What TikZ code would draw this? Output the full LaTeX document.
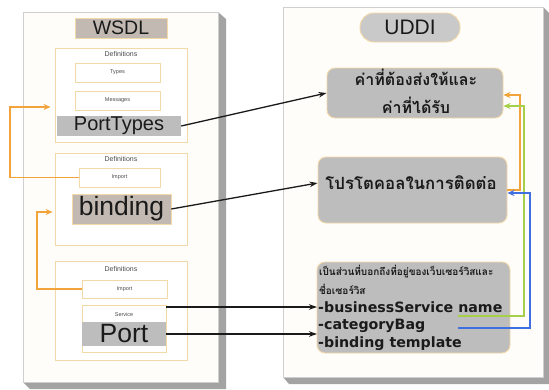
\documentclass[tikz,border=0pt]{standalone}
\usepackage{fontspec}
\setmainfont{Liberation Sans}
\newfontfamily\thaifont[Script=Thai]{Loma}
\newfontfamily\listfont{DejaVu Sans}
\usetikzlibrary{arrows.meta,fit,calc}

\definecolor{panelfill}{HTML}{FEFDF9}
\definecolor{panelline}{HTML}{CFCFCF}
\definecolor{panelshade}{HTML}{A3A3A3}
\definecolor{peach}{HTML}{F3D9A8}
\definecolor{bargrey}{HTML}{BDBDBD}
\definecolor{bartan}{HTML}{C2BAB2}
\definecolor{pillgrey}{HTML}{C9C9C9}
\definecolor{linkorange}{HTML}{F2A33A}
\definecolor{linkgreen}{HTML}{A6D04A}
\definecolor{linkblue}{HTML}{3F6FE0}
\definecolor{ink}{HTML}{1A1A1A}

\tikzset{
  panel/.style={draw=panelline, fill=panelfill, line width=0.6pt, inner sep=0pt},
  defbox/.style={draw=peach, fill=white, line width=0.9pt, inner sep=0pt},
  itembox/.style={draw=peach, fill=white, line width=0.9pt, inner sep=0pt},
  greybar/.style={fill=bargrey, draw=none, inner sep=0pt},
  tanbar/.style={fill=bartan, draw=peach, line width=0.6pt, inner sep=0pt},
  uddibox/.style={draw=peach, fill=bargrey, line width=0.9pt, rounded corners=8pt, inner sep=0pt},
  tinytext/.style={font=\fontsize{5.5}{6.5}\selectfont, text=black!70, inner sep=0pt},
  smalltext/.style={font=\fontsize{7}{8}\selectfont, text=black!70, inner sep=0pt},
  titletext/.style={font=\fontsize{19.5}{22}\selectfont, text=ink, inner sep=0pt},
  bigtext/.style={font=\fontsize{20}{22}\selectfont, text=ink, inner sep=0pt},
  hugetext/.style={font=\fontsize{26.5}{28}\selectfont, text=ink, inner sep=0pt},
  thaibig/.style={font=\thaifont\bfseries\fontsize{16}{28}\selectfont, text=ink, align=center, inner sep=0pt},
  thaismall/.style={font=\thaifont\bfseries\fontsize{10}{11}\selectfont, text=ink, inner sep=0pt},
  listtext/.style={font=\listfont\bfseries\fontsize{14.2}{16}\selectfont, text=ink, inner sep=1pt},
  link/.style={-{Stealth[length=8pt,width=5.5pt]}, line width=1.3pt, draw=ink},
  olink/.style={draw=linkorange, line width=1.4pt, -{Stealth[length=7pt,width=6pt]}},
  glink/.style={draw=linkgreen, line width=1.4pt, -{Stealth[length=7pt,width=6pt]}},
  blink/.style={draw=linkblue, line width=1.4pt, -{Stealth[length=7pt,width=6pt]}},
}

\begin{document}
\begin{tikzpicture}[x=1pt, y=-1pt]
\useasboundingbox (0,0) rectangle (549,389);
\fill[white] (0,0) rectangle (549,389);

% ---------------- WSDL panel ----------------
\fill[panelshade] (23,382) -- (30,389) -- (226,389) -- (226,19) -- (218,12) -- cycle;
\node[panel, fit={(23,12) (218,382)}] (wsdl) {};
\node[tanbar, fit={(75,18) (167,38)}] (wsdltag) {};
\node[titletext] (wsdltitle) at (wsdltag) {WSDL};

% first definitions block
\node[defbox, fit={(55,48) (187,142)}] (defs1) {};
\node[smalltext] (defs1t) at (121,53.5) {Definitions};
\node[itembox, fit={(75,63) (160,82)}, label={[tinytext]center:Types}] (types) {};
\node[itembox, fit={(75,91) (160,110)}, label={[tinytext]center:Messages}] (messages) {};
\node[greybar, fit={(57,116) (181,136)}] (porttypes) {};
\node[bigtext] (porttypest) at (porttypes) {PortTypes};

% second definitions block
\node[defbox, fit={(55,153) (187,245)}] (defs2) {};
\node[smalltext] (defs2t) at (121,158.5) {Definitions};
\node[itembox, fit={(79,168) (160,187)}, label={[tinytext]center:Import}] (import1) {};
\node[tanbar, fit={(72,194) (171,224)}] (binding) {};
\node[hugetext] (bindingt) at (binding) {binding};

% third definitions block
\node[defbox, fit={(55,261) (187,360)}] (defs3) {};
\node[smalltext] (defs3t) at (121,269) {Definitions};
\node[itembox, fit={(82,280) (167,298)}, label={[tinytext]center:Import}] (import2) {};
\node[itembox, fit={(82,305) (166,352)}] (service) {};
\node[tinytext] (servicet) at (124,314.5) {Service};
\node[greybar, fit={(82,322) (166,346)}] (port) {};
\node[hugetext] (portt) at (port) {Port};

% import links inside WSDL
\coordinate (iturn1) at (10,107);
\coordinate (iturn2) at (37,212);
\draw[olink, shorten >=4pt] (import1.west) -| (iturn1) -- (defs1.west |- iturn1);
\draw[olink, shorten >=2pt] (import2.west) -| (iturn2) -- (defs2.west |- iturn2);

% ---------------- UDDI panel ----------------
\fill[panelshade] (283,377) -- (289,384) -- (549,384) -- (549,13) -- (543,7) -- cycle;
\node[panel, fit={(283,7) (543,377)}] (uddi) {};
\node[draw=peach, fill=pillgrey, line width=0.9pt, rounded corners=14pt, inner sep=0pt,
      fit={(360,13) (460,42)}] (uddipill) {};
\node[titletext, font=\fontsize{21}{22}\selectfont] (uddititle) at (uddipill) {UDDI};

\node[uddibox, fit={(327,68) (503,118)}] (topbox) {};
\node[thaibig] (topboxt) at (416,91) {ค่าที่ต้องส่งให้และ\\ค่าที่ได้รับ};

\node[uddibox, fit={(318,157) (507,223)}] (midbox) {};
\node[thaibig, font=\thaifont\bfseries\fontsize{16.8}{20}\selectfont] (midboxt) at (411,183) {โปรโตคอลในการติดต่อ};

\node[uddibox, fit={(317,262) (510,353)}] (botbox) {};
\node[thaismall, anchor=west] (loc1) at (319,272) {เป็นส่วนที่บอกถึงที่อยู่ของเว็บเซอร์วิสและ};
\node[thaismall, anchor=west] (loc2) at (319,289) {ชื่อเซอร์วิส};
\node[listtext, anchor=west] (bsname) at (317,307) {-businessService name};
\node[listtext, anchor=west] (catbag) at (317,326) {-categoryBag};
\node[listtext, anchor=west] (bindtpl) at (317,344) {-binding template};

% ---------------- links between WSDL and UDDI ----------------
\draw[link] (porttypes.east) -- (topbox.west);
\draw[link] (binding.east) -- ($(midbox.west)+(0,-7)$);
\draw[link] (service.east |- bsname.west) -- (bsname.west);
\draw[link] (port.east) -- (catbag.west |- port.east);

% ---------------- links inside UDDI ----------------
\coordinate (oturn) at (520,95);
\coordinate (gturn) at (524,106);
\coordinate (bturn) at (530,193);
\coordinate (gstart) at (458,316);
\coordinate (bstart) at (458,328);
\draw[olink] (midbox.east) -| (oturn) -- (topbox.east |- oturn);
\draw[glink] (gstart) -| (gturn) -- (topbox.east |- gturn);
\draw[blink] (bstart) -| (bturn) -- (midbox.east |- bturn);
\end{tikzpicture}
\end{document}
